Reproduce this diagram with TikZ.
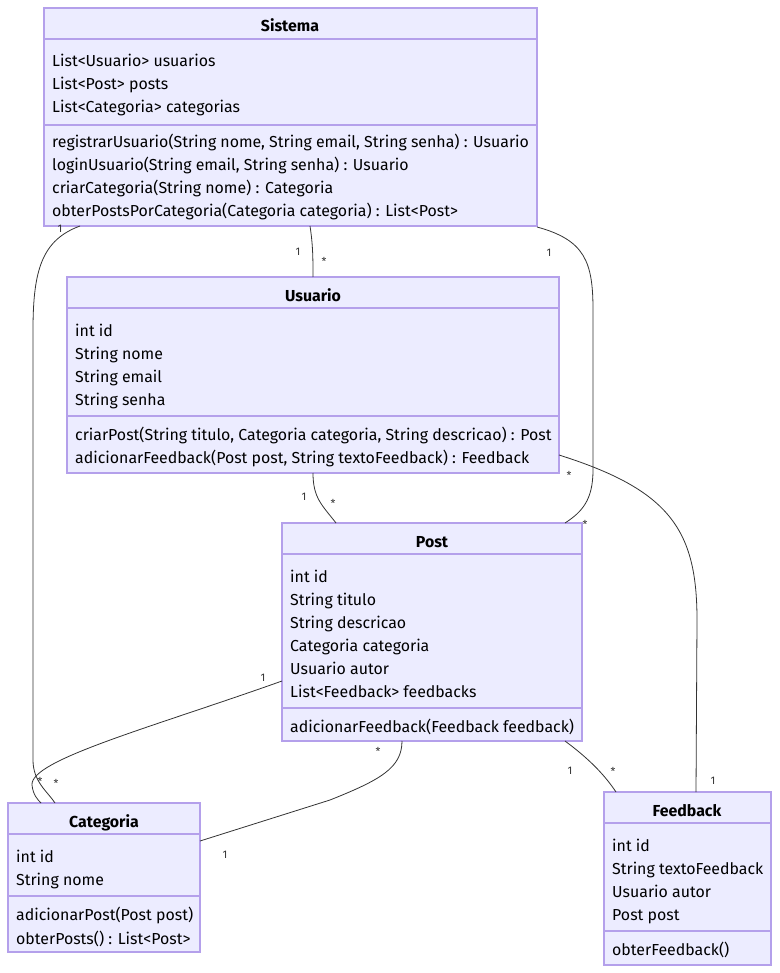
\documentclass[tikz,border=0pt]{standalone}
\usepackage{fontspec}
\setmainfont{Fira Sans}
\definecolor{boxfill}{RGB}{236,236,255}
\definecolor{boxline}{RGB}{180,160,235}
\definecolor{edgecol}{RGB}{51,51,51}
\begin{document}
\begin{tikzpicture}[x=1pt,y=-1pt,
  classbox/.style={draw=boxline,fill=boxfill,line width=1.3pt},
  divline/.style={draw=boxline,line width=1.3pt},
  ttl/.style={font=\fontsize{15.9}{19}\selectfont\bfseries,inner sep=0pt,text height=15pt,text depth=1pt,anchor=center},
  mem/.style={font=\fontsize{15.9}{19}\selectfont,inner sep=0pt,text height=15pt,text depth=1pt,anchor=west},
  lbl/.style={font=\fontsize{11}{13}\selectfont,inner sep=0pt,anchor=center,text=edgecol},
  edge/.style={draw=edgecol,line width=0.8pt}]
\useasboundingbox (0,0) rectangle (779,973);

% ---------- Sistema ----------
\path[classbox] (44,8) rectangle (537,226);
\draw[divline] (44,39) -- (537,39);
\draw[divline] (44,125) -- (537,125);
\node[ttl] (sT) at (290,25) {Sistema};
\node[mem] (sA1) at (52,60) {List<Usuario> usuarios};
\node[mem] (sA2) at (52,83) {List<Post> posts};
\node[mem] (sA3) at (52,106) {List<Categoria> categorias};
\node[mem] (sM1) at (52,141) {registrarUsuario(String nome, String email, String senha) : Usuario};
\node[mem] (sM2) at (52,164) {loginUsuario(String email, String senha) : Usuario};
\node[mem] (sM3) at (52,187) {criarCategoria(String nome) : Categoria};
\node[mem] (sM4) at (52,210) {obterPostsPorCategoria(Categoria categoria) : List<Post>};

% ---------- Usuario ----------
\path[classbox] (67,277) rectangle (559,473);
\draw[divline] (67,308) -- (559,308);
\draw[divline] (67,416) -- (559,416);
\node[ttl] (uT) at (313,294) {Usuario};
\node[mem] (uA1) at (75,329) {int id};
\node[mem] (uA2) at (75,352) {String nome};
\node[mem] (uA3) at (75,375) {String email};
\node[mem] (uA4) at (75,398) {String senha};
\node[mem] (uM1) at (75,433) {criarPost(String titulo, Categoria categoria, String descricao) : Post};
\node[mem] (uM2) at (75,456) {adicionarFeedback(Post post, String textoFeedback) : Feedback};

% ---------- Post ----------
\path[classbox] (282,523) rectangle (582,741);
\draw[divline] (282,554) -- (582,554);
\draw[divline] (282,708) -- (582,708);
\node[ttl] (pT) at (432,540) {Post};
\node[mem] (pA1) at (290,575) {int id};
\node[mem] (pA2) at (290,598) {String titulo};
\node[mem] (pA3) at (290,621) {String descricao};
\node[mem] (pA4) at (290,644) {Categoria categoria};
\node[mem] (pA5) at (290,667) {Usuario autor};
\node[mem] (pA6) at (290,690) {List<Feedback> feedbacks};
\node[mem] (pM1) at (290,725) {adicionarFeedback(Feedback feedback)};

% ---------- Categoria ----------
\path[classbox] (8,803) rectangle (200,952);
\draw[divline] (8,834) -- (200,834);
\draw[divline] (8,896) -- (200,896);
\node[ttl] (cT) at (104,820) {Categoria};
\node[mem] (cA1) at (16,855) {int id};
\node[mem] (cA2) at (16,878) {String nome};
\node[mem] (cM1) at (16,913) {adicionarPost(Post post)};
\node[mem] (cM2) at (16,937) {obterPosts() : List<Post>};

% ---------- Feedback ----------
\path[classbox] (604,792) rectangle (771,965);
\draw[divline] (604,823) -- (771,823);
\draw[divline] (604,931) -- (771,931);
\node[ttl] (fT) at (687,809) {Feedback};
\node[mem] (fA1) at (612,844) {int id};
\node[mem] (fA2) at (612,867) {String textoFeedback};
\node[mem] (fA3) at (612,890) {Usuario autor};
\node[mem] (fA4) at (612,913) {Post post};
\node[mem] (fM1) at (612,948) {obterFeedback()};

% ---------- connector end points ----------
\coordinate (sC) at (80,226);
\coordinate (cS) at (55,803);
\coordinate (sU) at (310,226);
\coordinate (uS) at (313,277);
\coordinate (sP) at (537,227);
\coordinate (pS) at (565,523);
\coordinate (uP) at (313,473);
\coordinate (pU) at (336,523);
\coordinate (uF) at (559,455);
\coordinate (fU) at (696,792);
\coordinate (pC1) at (282,681);
\coordinate (cP1) at (41,803);
\coordinate (pC2) at (402,741);
\coordinate (cP2) at (200,841);
\coordinate (pF) at (565,741);
\coordinate (fP) at (616,792);

% ---------- connectors ----------
\draw[edge] (sC) .. controls (42,240) and (33,270) .. (33,330) -- (33,760) .. controls (33,782) and (48,792) .. (cS);
\draw[edge] (sU) .. controls (313,245) and (313,260) .. (uS);
\draw[edge] (sP) .. controls (585,240) and (593,262) .. (593,310) -- (593,470) .. controls (593,500) and (582,512) .. (pS);
\draw[edge] (uP) .. controls (313,498) and (322,505) .. (pU);
\draw[edge] (uF) .. controls (670,490) and (697,530) .. (697,620) -- (fU);
\draw[edge] (pC1) .. controls (150,728) and (30,760) .. (32,785) .. controls (33,795) and (38,800) .. (cP1);
\draw[edge] (pC2) .. controls (402,768) and (380,780) .. (330,800) -- (cP2);
\draw[edge] (pF) .. controls (588,758) and (604,774) .. (fP);

% ---------- multiplicities ----------
\node[lbl] (l1a) at (60,229) {1};
\node[lbl] (l1b) at (40,781) {*};
\node[lbl] (l2a) at (298,252) {1};
\node[lbl] (l2b) at (324,261) {*};
\node[lbl] (l3a) at (549,253) {1};
\node[lbl] (l3b) at (585,524) {*};
\node[lbl] (l4a) at (304,497) {1};
\node[lbl] (l4b) at (333,503) {*};
\node[lbl] (l5a) at (569,475) {*};
\node[lbl] (l5b) at (713,781) {1};
\node[lbl] (l6a) at (263,678) {1};
\node[lbl] (l6b) at (56,783) {*};
\node[lbl] (l7a) at (378,751) {*};
\node[lbl] (l7b) at (225,855) {1};
\node[lbl] (l8a) at (570,771) {1};
\node[lbl] (l8b) at (613,771) {*};
\end{tikzpicture}
\end{document}
